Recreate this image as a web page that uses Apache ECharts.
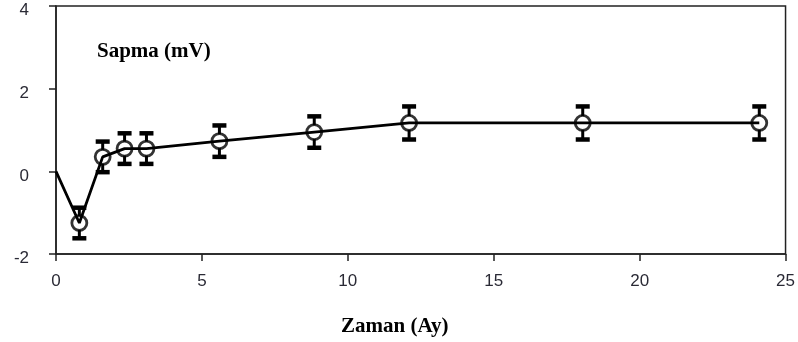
<!DOCTYPE html>
<html>
<head>
<meta charset="utf-8">
<script src="https://cdn.jsdelivr.net/npm/echarts@6/dist/echarts.min.js"></script>
<style>
html,body{margin:0;padding:0;background:#fff;}
#c{width:798px;height:342px;}
</style>
</head>
<body>
<div id="c"></div>
<script>
// Data
const xVals = [0.8, 1.6, 2.35, 3.1, 5.6, 8.85, 12.1, 18.05, 24.1];
const yVals = [-1.25, 0.35, 0.55, 0.55, 0.73, 0.95, 1.17, 1.17, 1.17];
const errVals = [0.37, 0.37, 0.37, 0.37, 0.38, 0.38, 0.40, 0.40, 0.40];
const lineStart = [0, 0];
const xTicks = [0, 5, 10, 15, 20, 25];
const yTicks = [-2, 0, 2, 4];
const yTitle = 'Sapma (mV)';
const xTitle = 'Zaman (Ay)';

const pts = xVals.map((x, i) => [x, yVals[i], errVals[i]]);
const linePts = [lineStart].concat(xVals.map((x, i) => [x, yVals[i]]));
const R = 7;

const chart = echarts.init(document.getElementById('c'), null, {renderer: 'canvas'});
chart.setOption({
  animation: false,
  backgroundColor: '#fff',
  grid: {left: 56, right: 9, top: 6, bottom: 88, show: true, borderColor: '#222', borderWidth: 1.5},
  title: [
    {text: yTitle, left: 92, top: 36, textStyle: {fontFamily: 'Liberation Serif', fontWeight: 'bold', fontSize: 21, color: '#000'}},
    {text: xTitle, left: 336, top: 311, textStyle: {fontFamily: 'Liberation Serif', fontWeight: 'bold', fontSize: 21, color: '#000'}}
  ],
  xAxis: {
    type: 'value', min: xTicks[0], max: xTicks[xTicks.length - 1], interval: 5,
    axisLine: {show: true, onZero: false, lineStyle: {color: '#222', width: 1.5}},
    axisTick: {show: true, inside: false, length: 7, lineStyle: {color: '#222', width: 1.5}},
    axisLabel: {fontFamily: 'Liberation Sans', fontSize: 17, color: '#2a2a35', margin: 19},
    splitLine: {show: false}
  },
  yAxis: {
    type: 'value', min: yTicks[0], max: yTicks[yTicks.length - 1], interval: 2,
    axisLine: {show: true, onZero: false, lineStyle: {color: '#222', width: 1.5}},
    axisTick: {show: true, inside: false, length: 7, lineStyle: {color: '#222', width: 1.5}},
    axisLabel: {
      fontFamily: 'Liberation Sans', fontSize: 17, color: '#2a2a35', margin: 27,
      formatter: '{a|{value}}',
      rich: {a: {fontFamily: 'Liberation Sans', fontSize: 17, color: '#2a2a35', padding: [9, 0, 0, 0]}}
    },
    splitLine: {show: false}
  },
  series: [
    {
      type: 'line', data: linePts, showSymbol: false, z: 2,
      lineStyle: {color: '#000', width: 2.8}
    },
    {
      type: 'custom', z: 3,
      data: pts,
      renderItem: function (params, api) {
        const x = api.value(0), y = api.value(1), e = api.value(2);
        const c = api.coord([x, y]);
        const top = api.coord([x, y + e]);
        const bot = api.coord([x, y - e]);
        const capW = 14, capH = 4.5;
        return {
          type: 'group',
          children: [
            {type: 'line', shape: {x1: c[0], y1: top[1], x2: c[0], y2: c[1] - R}, style: {stroke: '#000', lineWidth: 3}},
            {type: 'line', shape: {x1: c[0], y1: c[1] + R, x2: c[0], y2: bot[1]}, style: {stroke: '#000', lineWidth: 3}},
            {type: 'rect', shape: {x: c[0] - capW / 2, y: top[1] - capH / 2, width: capW, height: capH}, style: {fill: '#000'}},
            {type: 'rect', shape: {x: c[0] - capW / 2, y: bot[1] - capH / 2, width: capW, height: capH}, style: {fill: '#000'}}
          ]
        };
      }
    },
    {
      type: 'scatter', z: 4,
      data: pts.map(p => [p[0], p[1]]),
      symbol: 'circle', symbolSize: 2 * R + 1,
      itemStyle: {color: 'rgba(0,0,0,0)', borderColor: '#000', borderWidth: 2.8}
    }
  ]
});
</script>
</body>
</html>
